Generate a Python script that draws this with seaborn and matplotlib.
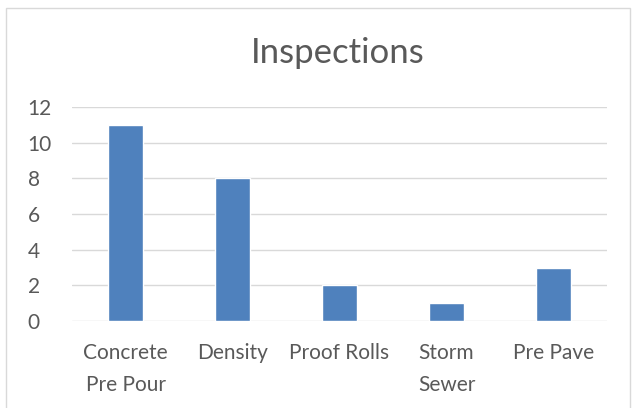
import matplotlib
matplotlib.use('Agg')
import matplotlib.pyplot as plt
import seaborn as sns
import pandas as pd
from matplotlib.patches import Rectangle

categories = ["Concrete\nPre Pour", "Density", "Proof Rolls", "Storm\nSewer", "Pre Pave"]
inspections = [11, 8, 2, 1, 3]
y_ticks = [0, 2, 4, 6, 8, 10, 12]

sns.set_style("white")
plt.rcParams['font.family'] = ['Lato', 'DejaVu Sans']

df = pd.DataFrame({"category": categories, "count": inspections})

fig = plt.figure(figsize=(6.32, 4.08), dpi=100)
fig.patches.append(Rectangle((6 / 632, -0.05), 624 / 632, 1 - 8 / 408 + 0.05,
                             transform=fig.transFigure, fill=False,
                             edgecolor="#D9D9D9", linewidth=1))
ax = fig.add_axes([72 / 632, 1 - 321 / 408, 535 / 632, 214 / 408])
sns.barplot(data=df, x="category", y="count", color="#4F81BD", width=0.32,
            saturation=1, ax=ax, zorder=3)
ax.set_ylim(0, 12)
ax.set_yticks(y_ticks)
ax.yaxis.grid(True, color="#D9D9D9", linewidth=1, zorder=0)
for s in ax.spines.values():
    s.set_visible(False)
ax.set_xlabel("")
ax.set_ylabel("")
ax.tick_params(axis="both", length=0, labelsize=15, colors="#595959")
ax.tick_params(axis="y", pad=32)
ax.tick_params(axis="x", pad=16)
for lab in ax.get_yticklabels():
    lab.set_horizontalalignment("left")
for lab in ax.get_xticklabels():
    lab.set_linespacing(1.75)
fig.text(0.535, 1 - 53 / 408, "Inspections", ha="center", va="center",
         fontsize=25, color="#595959")

plt.savefig("out.png", dpi=100)
